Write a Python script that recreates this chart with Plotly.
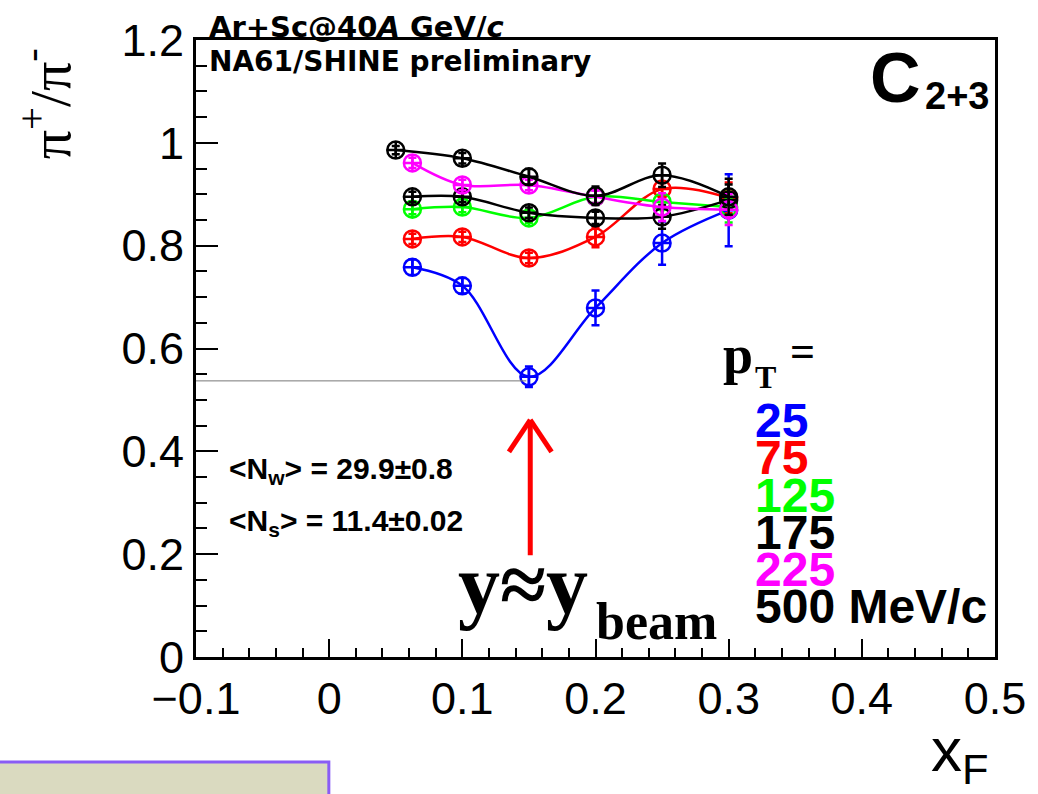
import plotly.graph_objects as go

# ---------------- data ----------------
x_low = [0.0625, 0.1, 0.15, 0.2, 0.25, 0.3]
x_500 = [0.05, 0.1, 0.15, 0.2, 0.25, 0.3]

pt_labels = ["25", "75", "125", "175", "225", "500 MeV/c"]
pt_colors = ["#0000FF", "#FF0000", "#00FF00", "#000000", "#FF00FF", "#000000"]

y_25 = [0.758, 0.722, 0.545, 0.679, 0.805, 0.869]
e_25 = [0.015, 0.015, 0.020, 0.034, 0.042, 0.070]
y_75 = [0.813, 0.817, 0.776, 0.817, 0.910, 0.893]
e_75 = [0.010, 0.010, 0.010, 0.020, 0.012, 0.030]
y_125 = [0.871, 0.875, 0.854, 0.895, 0.885, 0.875]
e_125 = [0.010, 0.010, 0.010, 0.012, 0.015, 0.030]
y_175 = [0.895, 0.895, 0.864, 0.854, 0.856, 0.889]
e_175 = [0.010, 0.010, 0.010, 0.012, 0.023, 0.030]
y_225 = [0.961, 0.918, 0.918, 0.895, 0.875, 0.870]
e_225 = [0.010, 0.010, 0.010, 0.012, 0.027, 0.030]
y_500 = [0.986, 0.970, 0.934, 0.897, 0.937, 0.895]
e_500 = [0.008, 0.010, 0.015, 0.018, 0.023, 0.035]

series = [
    (x_low, y_25, e_25),
    (x_low, y_75, e_75),
    (x_low, y_125, e_125),
    (x_low, y_175, e_175),
    (x_low, y_225, e_225),
    (x_500, y_500, e_500),
]

ybeam_line_y = 0.537
ybeam_line_x = [-0.1, 0.148]
arrow_x = 0.151
arrow_y = [0.198, 0.461]
arrow_head_dx = 0.016
arrow_head_dy = 0.062

# ---------------- figure ----------------
W, H = 1038, 794
L, R, T, B = 196, 1002, 40, 657


def px(x):
    return (x - L) / (R - L)


def py(y):
    return (B - y) / (B - T)


fig = go.Figure()
for (xs, ys, es), col in zip(series, pt_colors):
    fig.add_trace(go.Scatter(
        x=xs, y=ys, mode="lines+markers",
        line=dict(color=col, width=2.5, shape="spline", smoothing=1.0),
        marker=dict(symbol="circle-cross-open", size=17, color=col,
                    line=dict(color=col, width=2.5)),
        error_y=dict(type="data", array=es, visible=True, color=col,
                     thickness=2.5, width=4),
        showlegend=False, hoverinfo="skip",
    ))

shapes = []
# grey horizontal line
shapes.append(dict(type="line", xref="x", yref="y",
                   x0=ybeam_line_x[0], x1=ybeam_line_x[1],
                   y0=ybeam_line_y, y1=ybeam_line_y,
                   line=dict(color="#777777", width=1)))
# red arrow
shapes.append(dict(type="line", xref="x", yref="y",
                   x0=arrow_x, x1=arrow_x, y0=arrow_y[0], y1=arrow_y[1],
                   line=dict(color="#FF0000", width=5)))
shapes.append(dict(type="line", xref="x", yref="y",
                   x0=arrow_x, x1=arrow_x - arrow_head_dx,
                   y0=arrow_y[1], y1=arrow_y[1] - arrow_head_dy,
                   line=dict(color="#FF0000", width=5)))
shapes.append(dict(type="line", xref="x", yref="y",
                   x0=arrow_x, x1=arrow_x + arrow_head_dx,
                   y0=arrow_y[1], y1=arrow_y[1] - arrow_head_dy,
                   line=dict(color="#FF0000", width=5)))
# bottom-left box
shapes.append(dict(type="rect", xref="paper", yref="paper",
                   x0=px(-5), x1=px(330), y0=py(762), y1=py(810),
                   fillcolor="#DADAC0", line=dict(color="#8A5CF5", width=3),
                   layer="above"))

ann = []


def add(text, x, y, size, family="Liberation Sans", color="black",
        xanchor="left", yanchor="middle", angle=0):
    ann.append(dict(text=text, x=px(x), y=py(y), xref="paper", yref="paper",
                    showarrow=False, xanchor=xanchor, yanchor=yanchor,
                    textangle=angle,
                    font=dict(size=size, family=family, color=color)))


add("<b>Ar+Sc@40<i>A</i> GeV/<i>c</i></b>", 207, 27, 29, family="DejaVu Sans")
add("<b>NA61/SHINE preliminary</b>", 207, 61, 28, family="DejaVu Sans")
add("<b>C</b>", 929, 78, 70, xanchor="right")
add("<b>2+3</b>", 929, 96, 38)
add("π<sup>+</sup>/π<sup>-</sup>", 45, 104, 58, family="Liberation Serif",
    xanchor="center", angle=-90)
add("x<sub>F</sub>", 967, 754, 62, xanchor="center")
add("<b>&lt;N<sub>w</sub>&gt; = 29.9±0.8</b>", 227, 470, 30)
add("<b>&lt;N<sub>s</sub>&gt; = 11.4±0.02</b>", 227, 522, 30)
add("<b>p</b>", 726, 355, 54, family="Liberation Serif")
add("<b>T</b>", 758, 377, 32, family="Liberation Serif")
add("<b>=</b>", 793, 352, 44, family="Liberation Serif")
add("<b>y≈y</b>", 458, 584, 84, family="Liberation Serif")
add("<b>beam</b>", 597, 621, 52, family="Liberation Serif")

legend_y = [420, 457, 495, 532, 569, 606]
for lab, col, yy in zip(pt_labels, pt_colors, legend_y):
    add("<b>" + lab + "</b>", 758, yy, 48, color=col)

fig.update_layout(
    width=W, height=H,
    margin=dict(l=L, r=W - R, t=T, b=H - B, pad=0),
    paper_bgcolor="white", plot_bgcolor="white",
    shapes=shapes, annotations=ann,
    font=dict(family="Liberation Sans", color="black"),
)
fig.update_xaxes(
    range=[-0.1, 0.5], dtick=0.1, tick0=-0.1,
    showgrid=False, zeroline=False,
    showline=True, linecolor="black", linewidth=3, mirror=True,
    ticks="inside", ticklen=18, tickwidth=2, tickcolor="black",
    minor=dict(ticks="inside", dtick=0.02, ticklen=9, tickwidth=2,
               tickcolor="black", showgrid=False),
    tickfont=dict(size=45, family="Liberation Sans", color="black"),
)
fig.update_yaxes(
    range=[0, 1.2], dtick=0.2, tick0=0,
    showgrid=False, zeroline=False,
    showline=True, linecolor="black", linewidth=3, mirror=True,
    ticks="inside", ticklen=22, tickwidth=2, tickcolor="black",
    minor=dict(ticks="inside", dtick=0.05, ticklen=11, tickwidth=2,
               tickcolor="black", showgrid=False),
    tickfont=dict(size=45, family="Liberation Sans", color="black"),
)

fig.write_html("out.html")
